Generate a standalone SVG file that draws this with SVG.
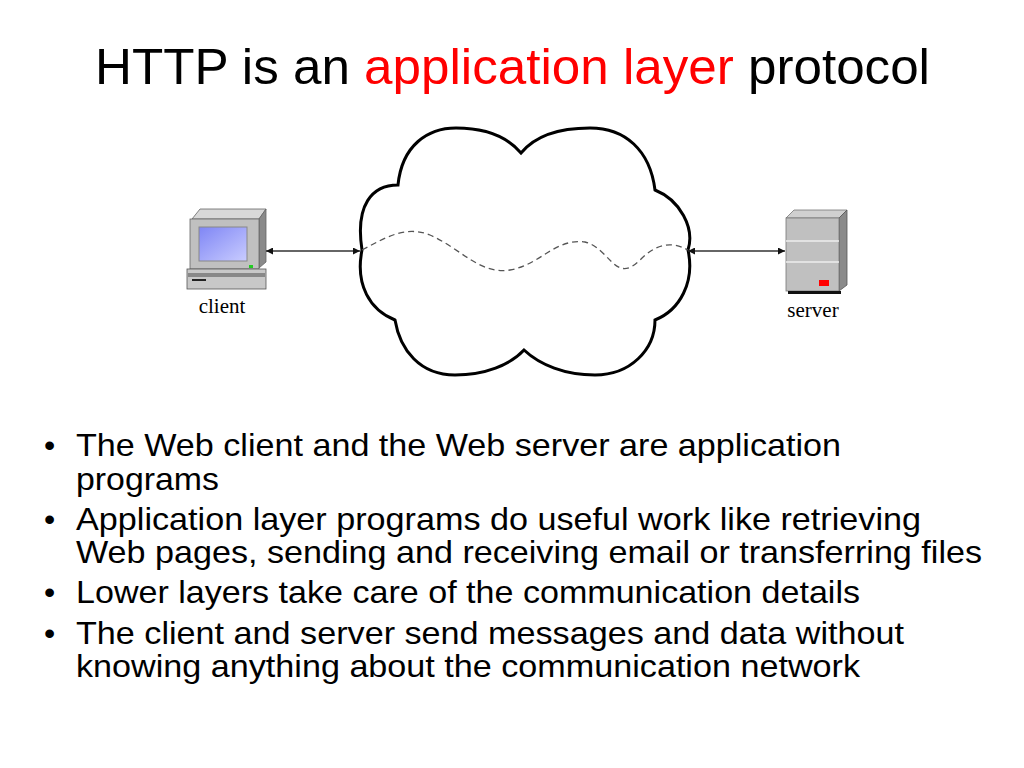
<svg xmlns="http://www.w3.org/2000/svg" width="1024" height="768" viewBox="0 0 1024 768">
<defs>
<style>
text{font-family:"Liberation Sans",Arial,sans-serif;fill:#000}
.b{font-size:32px}
.lbl{font-family:"Liberation Serif","Times New Roman",serif;font-size:21px}
.ar{stroke:#333;stroke-width:1.5;fill:none;marker-start:url(#ah);marker-end:url(#ah)}
</style>
<marker id="ah" viewBox="0 0 10 10" refX="10" refY="5" markerWidth="9" markerHeight="7" orient="auto-start-reverse" markerUnits="userSpaceOnUse"><path d="M0,0L10,5L0,10Z" fill="#111"/></marker>
<linearGradient id="scr" x1="0" y1="0" x2="1" y2="1"><stop offset="0" stop-color="#7f86f5"/><stop offset="1" stop-color="#c9ccff"/></linearGradient>
</defs>
<rect width="1024" height="768" fill="#fff"/>
<text x="95" y="84" font-size="50" textLength="835" lengthAdjust="spacingAndGlyphs">HTTP is an <tspan fill="#f00">application layer</tspan> protocol</text>
<g id="cloud">
<path d="M362,250 C355,205 372,185 398,185 C402,145 428,128 456,128 C490,128 510,140 521,153 C535,136 560,128 590,128 C625,128 650,150 655,190 C680,200 695,228 688,250 C695,282 680,310 655,320 C655,350 630,375 595,375 C565,375 540,365 524,350 C510,365 485,375 455,375 C420,375 400,350 395,320 C370,310 355,285 362,250 Z" fill="#fff" stroke="#000" stroke-width="3"/>
<path d="M362,250 C385,238 405,225 430,235 C460,248 480,275 510,270 C540,265 555,238 585,242 C610,248 615,285 640,260 C655,245 670,240 688,250" fill="none" stroke="#555" stroke-width="1.3" stroke-dasharray="6,4"/>
</g>
<g id="client">
<path d="M192,219 L200,209 L266,209 L259,219 Z" fill="#d8d8d8" stroke="#666" stroke-width="0.8"/>
<path d="M259,219 L266,209 L266,262 L259,268 Z" fill="#8a8a8a" stroke="#666" stroke-width="0.8"/>
<rect x="190" y="219" width="69" height="50" fill="#c0c0c0" stroke="#666" stroke-width="0.8"/>
<rect x="199" y="227" width="48" height="34" fill="url(#scr)" stroke="#888"/>
<rect x="249" y="265" width="4" height="3" fill="#2c2"/>
<rect x="187" y="269" width="79" height="20" fill="#c8c8c8" stroke="#555" stroke-width="0.8"/>
<rect x="188" y="273" width="77" height="4" fill="#888"/>
<rect x="192" y="279" width="14" height="2" fill="#222"/>
<text x="222" y="313" class="lbl" text-anchor="middle">client</text>
</g>
<g id="server">
<path d="M786,218 L794,210 L847,210 L839,218 Z" fill="#d0d0d0" stroke="#777" stroke-width="0.8"/>
<path d="M839,218 L847,210 L847,285 L839,291 Z" fill="#8a8a8a" stroke="#555" stroke-width="0.8"/>
<rect x="786" y="218" width="53" height="73" fill="#c0c0c0" stroke="#777" stroke-width="0.8"/>
<line x1="786" y1="241" x2="839" y2="241" stroke="#eee" stroke-width="1.5"/>
<line x1="786" y1="262" x2="839" y2="262" stroke="#eee" stroke-width="1.5"/>
<rect x="819" y="280" width="10" height="6" fill="#f00"/>
<rect x="788" y="291" width="53" height="3" fill="#111"/>
<text x="813" y="317" class="lbl" text-anchor="middle">server</text>
</g>
<g id="connectors">
<line class="ar" x1="266" y1="251" x2="360" y2="251"/>
<line class="ar" x1="688" y1="251" x2="785" y2="251"/>
</g>
<g id="bullets">
<text x="44" y="456" class="b">•</text><text x="76" y="456" class="b" textLength="765" lengthAdjust="spacingAndGlyphs">The Web client and the Web server are application</text>
<text x="76" y="490" class="b" textLength="143" lengthAdjust="spacingAndGlyphs">programs</text>
<text x="44" y="530" class="b">•</text><text x="76" y="530" class="b" textLength="845" lengthAdjust="spacingAndGlyphs">Application layer programs do useful work like retrieving</text>
<text x="76" y="563" class="b" textLength="906" lengthAdjust="spacingAndGlyphs">Web pages, sending and receiving email or transferring files</text>
<text x="44" y="603" class="b">•</text><text x="76" y="603" class="b" textLength="784" lengthAdjust="spacingAndGlyphs">Lower layers take care of the communication details</text>
<text x="44" y="644" class="b">•</text><text x="76" y="644" class="b" textLength="828" lengthAdjust="spacingAndGlyphs">The client and server send messages and data without</text>
<text x="76" y="677" class="b" textLength="784" lengthAdjust="spacingAndGlyphs">knowing anything about the communication network</text>
</g>
</svg>
